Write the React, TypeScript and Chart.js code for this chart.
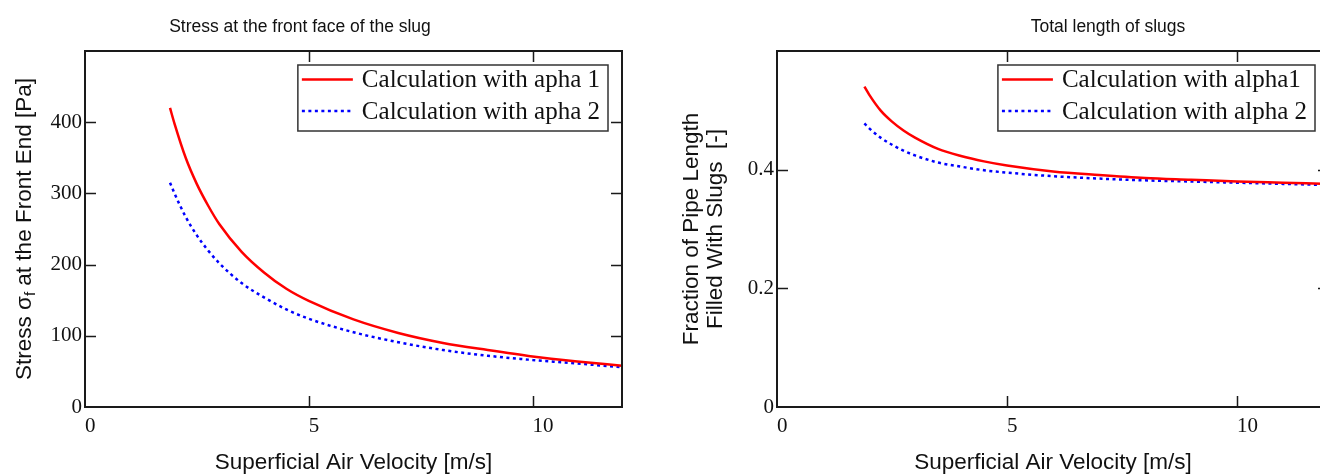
import React, { useEffect, useRef } from 'react';
import { Chart, registerables } from 'chart.js';
Chart.register(...registerables);

// ---- data ----
const velocity = [1.9, 2, 2.25, 2.5, 2.75, 3, 3.5, 4, 4.5, 5, 6, 7, 8, 9, 10, 11, 12];
const stressAlpha1 = [420, 398, 350, 313, 283, 257, 218, 189, 166, 149, 123, 104, 90, 80, 71, 64, 58];
const stressAlpha2 = [315, 300, 267, 241, 220, 202, 174, 154, 137, 124, 105, 91, 80, 72, 66, 61, 56];
const fractionAlpha1 = [0.54, 0.527, 0.5, 0.481, 0.466, 0.454, 0.435, 0.423, 0.414, 0.407, 0.397, 0.391, 0.386, 0.383, 0.38, 0.378, 0.376];
const fractionAlpha2 = [0.478, 0.47, 0.454, 0.442, 0.432, 0.424, 0.412, 0.405, 0.399, 0.395, 0.389, 0.385, 0.382, 0.38, 0.378, 0.376, 0.374];
const velocityTicks = [0, 5, 10];
const stressTicks = [0, 100, 200, 300, 400];
const fractionTicks = [0, 0.2, 0.4];
const leftLabels = ['Calculation with apha 1', 'Calculation with apha 2'];
const rightLabels = ['Calculation with alpha1', 'Calculation with alpha 2'];

const SERIF = '"Liberation Serif", "Times New Roman", serif';
const SANS = '"Liberation Sans", Arial, sans-serif';
const INK = '#1a1a1a';
const TICK = 11;

type Cfg = {
  title: string;
  titleX: number;
  yTitle: (ctx: CanvasRenderingContext2D, cy: number) => void;
  xTitle: string;
};

function makeDecor(cfg: Cfg) {
  return {
    id: 'decor',
    afterDraw(chart: any) {
      const ctx: CanvasRenderingContext2D = chart.ctx;
      const { left, right, top, bottom } = chart.chartArea;
      const xs = chart.scales.x;
      const ys = chart.scales.y;
      ctx.save();
      // frame
      ctx.strokeStyle = INK;
      ctx.lineWidth = 2;
      ctx.strokeRect(left, top, right - left, bottom - top);
      // inward ticks on all four sides
      ctx.lineWidth = 1.5;
      ctx.beginPath();
      for (const t of xs.ticks) {
        if (t.value <= xs.min || t.value >= xs.max) continue;
        const px = Math.round(xs.getPixelForValue(t.value)) + 0.5;
        ctx.moveTo(px, bottom); ctx.lineTo(px, bottom - TICK);
        ctx.moveTo(px, top); ctx.lineTo(px, top + TICK);
      }
      for (const t of ys.ticks) {
        if (t.value <= ys.min || t.value >= ys.max) continue;
        const py = Math.round(ys.getPixelForValue(t.value)) + 0.5;
        ctx.moveTo(left, py); ctx.lineTo(left + TICK, py);
        ctx.moveTo(right, py); ctx.lineTo(right - TICK, py);
      }
      ctx.stroke();

      // chart title
      ctx.fillStyle = '#111';
      ctx.textAlign = 'center';
      ctx.textBaseline = 'middle';
      ctx.font = `17.5px ${SANS}`;
      ctx.fillText(cfg.title, cfg.titleX, 27);

      // x title
      ctx.font = `22.5px ${SANS}`;
      ctx.fillText(cfg.xTitle, (left + right) / 2, 463);

      // y title
      cfg.yTitle(ctx, (top + bottom) / 2);

      // legend
      const ds = chart.data.datasets;
      ctx.font = `25px ${SERIF}`;
      let maxW = 0;
      for (const d of ds) maxW = Math.max(maxW, ctx.measureText(d.label).width);
      const boxW = 4 + 51 + 9 + maxW + 8;
      const boxR = right - 14;
      const boxL = boxR - boxW;
      const boxT = top + 14;
      const boxH = 66;
      ctx.fillStyle = '#fff';
      ctx.fillRect(boxL, boxT, boxW, boxH);
      ctx.strokeStyle = '#333';
      ctx.lineWidth = 1.5;
      ctx.strokeRect(boxL, boxT, boxW, boxH);
      ds.forEach((d: any, i: number) => {
        const cy = boxT + 14.5 + i * 31.5;
        ctx.beginPath();
        ctx.strokeStyle = d.borderColor;
        ctx.lineWidth = d.borderWidth;
        ctx.setLineDash(d.borderDash || []);
        ctx.moveTo(boxL + 4, cy);
        ctx.lineTo(boxL + 55, cy);
        ctx.stroke();
        ctx.setLineDash([]);
        ctx.fillStyle = '#111';
        ctx.textAlign = 'left';
        ctx.textBaseline = 'middle';
        ctx.fillText(d.label, boxL + 64, cy + 1);
      });
      ctx.restore();
    },
  };
}

function leftYTitle(ctx: CanvasRenderingContext2D, cy: number) {
  const a = 'Stress σ';
  const sub = 'f';
  const b = ' at the Front End [Pa]';
  ctx.save();
  ctx.translate(25, cy);
  ctx.rotate(-Math.PI / 2);
  ctx.fillStyle = '#111';
  ctx.textBaseline = 'middle';
  ctx.textAlign = 'left';
  ctx.font = `22.5px ${SANS}`;
  const wa = ctx.measureText(a).width;
  const wb = ctx.measureText(b).width;
  ctx.font = `15px ${SANS}`;
  const ws = ctx.measureText(sub).width;
  const x0 = -(wa + ws + wb) / 2;
  ctx.font = `22.5px ${SANS}`;
  ctx.fillText(a, x0, 0);
  ctx.font = `15px ${SANS}`;
  ctx.fillText(sub, x0 + wa, 6);
  ctx.font = `22.5px ${SANS}`;
  ctx.fillText(b, x0 + wa + ws, 0);
  ctx.restore();
}

function rightYTitle(ctx: CanvasRenderingContext2D, cy: number) {
  ctx.save();
  ctx.fillStyle = '#111';
  ctx.textBaseline = 'middle';
  ctx.textAlign = 'center';
  ctx.font = `22.5px ${SANS}`;
  ctx.translate(32, cy);
  ctx.rotate(-Math.PI / 2);
  ctx.fillText('Fraction of Pipe Length', 0, 0);
  ctx.fillText('Filled With Slugs  [-]', 0, 23.5);
  ctx.restore();
}

function buildChart(
  canvas: HTMLCanvasElement,
  labels: string[],
  s1: number[],
  s2: number[],
  yMax: number,
  yTickVals: number[],
  yWidth: number,
  padRight: number,
  cfg: Cfg,
) {
  const fitZero = (s: any) => {
    s.paddingLeft = 0; s.paddingRight = 0; s.paddingTop = 0; s.paddingBottom = 0;
  };
  return new Chart(canvas, {
    type: 'line',
    data: {
      datasets: [
        {
          label: labels[0],
          data: velocity.map((x, i) => ({ x, y: s1[i] })),
          borderColor: 'rgb(255,0,0)',
          borderWidth: 2.5,
          pointRadius: 0,
          cubicInterpolationMode: 'monotone',
          fill: false,
        },
        {
          label: labels[1],
          data: velocity.map((x, i) => ({ x, y: s2[i] })),
          borderColor: 'rgb(0,0,255)',
          borderWidth: 2.5,
          borderDash: [3, 3.5],
          pointRadius: 0,
          cubicInterpolationMode: 'monotone',
          fill: false,
        },
      ],
    },
    options: {
      responsive: false,
      animation: false,
      devicePixelRatio: 1,
      layout: { padding: { left: 0, top: 51, right: padRight, bottom: 0 } },
      plugins: { legend: { display: false }, tooltip: { enabled: false }, title: { display: false } },
      scales: {
        x: {
          type: 'linear',
          min: 0,
          max: 12,
          grid: { display: false, drawTicks: false },
          border: { display: false },
          afterBuildTicks: (s: any) => { s.ticks = velocityTicks.map((v) => ({ value: v })); },
          afterFit: (s: any) => { s.height = 69; fitZero(s); },
          ticks: {
            align: 'start',
            padding: 7,
            color: '#111',
            font: { family: SERIF, size: 21 },
            callback: (v: any) => String(v),
            maxRotation: 0,
          },
        },
        y: {
          type: 'linear',
          min: 0,
          max: yMax,
          grid: { display: false, drawTicks: false },
          border: { display: false },
          afterBuildTicks: (s: any) => { s.ticks = yTickVals.map((v) => ({ value: v })); },
          afterFit: (s: any) => { s.width = yWidth; fitZero(s); },
          ticks: {
            padding: 3,
            color: '#111',
            font: { family: SERIF, size: 21 },
            callback: (v: any) => String(v),
          },
        },
      },
    } as any,
    plugins: [makeDecor(cfg)],
  } as any);
}

export default function App() {
  const leftRef = useRef<HTMLCanvasElement>(null);
  const rightRef = useRef<HTMLCanvasElement>(null);

  useEffect(() => {
    const c1 = buildChart(leftRef.current!, leftLabels, stressAlpha1, stressAlpha2, 500, stressTicks, 85, 38, {
      title: 'Stress at the front face of the slug',
      titleX: 300,
      yTitle: leftYTitle,
      xTitle: 'Superficial Air Velocity [m/s]',
    });
    const c2 = buildChart(rightRef.current!, rightLabels, fractionAlpha1, fractionAlpha2, 0.6, fractionTicks, 117, 11, {
      title: 'Total length of slugs',
      titleX: 448,
      yTitle: rightYTitle,
      xTitle: 'Superficial Air Velocity [m/s]',
    });
    return () => { c1.destroy(); c2.destroy(); };
  }, []);

  return (
    <div style={{ position: 'absolute', left: 0, top: 0, width: 1320, height: 476, overflow: 'hidden', background: '#fff' }}>
      <canvas ref={leftRef} width={660} height={476} style={{ position: 'absolute', left: 0, top: 0, width: 660, height: 476 }} />
      <canvas ref={rightRef} width={680} height={476} style={{ position: 'absolute', left: 660, top: 0, width: 680, height: 476 }} />
    </div>
  );
}
